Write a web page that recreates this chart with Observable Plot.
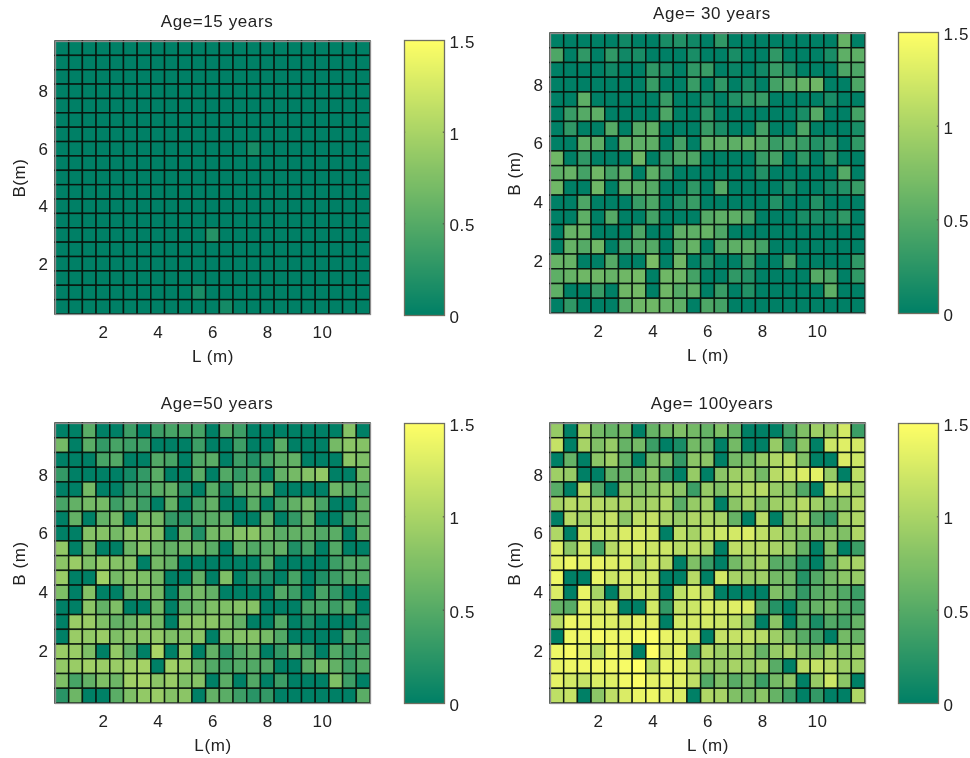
<!DOCTYPE html>
<html><head><meta charset="utf-8">
<script src="https://cdn.jsdelivr.net/npm/d3@7"></script>
<script src="https://cdn.jsdelivr.net/npm/@observablehq/plot@0.6"></script>
<style>
html,body{margin:0;padding:0;background:#fff}
#chart{position:relative;width:970px;height:758px;overflow:hidden}
#chart svg{position:absolute;filter:blur(0.5px);overflow:visible}
</style></head><body><div id="chart"></div>
<script>
// Cell values in hundredths; rows run from B=9.5 (top) down to B=0.5, columns from L=0.5 to L=11.5
const age15 = [
[0,0,0,0,0,0,0,0,0,0,0,0,0,0,0,0,0,0,0,0,0,0,0],
[0,0,0,0,0,0,0,0,0,0,0,0,0,0,0,0,0,0,0,0,0,0,0],
[0,0,0,0,0,0,0,0,0,0,0,0,0,0,0,0,0,0,0,0,0,0,0],
[0,0,0,0,0,0,0,0,0,0,0,0,0,0,0,0,0,0,0,0,0,0,0],
[0,0,0,0,0,0,0,0,0,0,0,0,0,0,0,0,0,0,0,0,0,0,0],
[0,0,0,0,0,0,0,0,0,0,0,0,0,0,0,0,0,0,0,0,0,0,0],
[0,0,0,0,0,0,0,0,0,0,0,0,0,0,0,0,0,0,0,0,0,0,0],
[0,0,0,0,0,0,0,0,0,0,0,0,0,0,14,0,0,0,0,0,0,0,0],
[0,0,0,0,0,0,0,0,0,0,0,0,0,0,0,0,0,0,0,0,0,0,0],
[0,0,0,0,0,0,0,0,0,0,0,0,0,0,0,0,0,0,0,0,0,0,0],
[0,0,0,0,0,0,0,0,0,0,0,0,0,0,0,0,0,0,0,0,0,0,0],
[0,0,0,0,0,0,0,0,0,0,0,0,0,0,0,0,0,0,0,0,0,0,0],
[0,0,0,0,0,0,0,0,0,0,0,0,0,0,0,0,0,0,0,0,0,0,0],
[0,0,0,0,0,0,0,0,0,0,0,22,0,0,0,0,0,0,0,0,0,0,0],
[0,0,0,0,0,0,0,0,0,0,0,0,0,0,0,0,0,0,0,0,0,0,0],
[0,0,0,0,0,0,0,0,0,0,0,0,0,0,0,0,0,0,0,0,0,0,0],
[0,0,0,0,0,0,0,0,0,0,0,0,0,0,0,0,0,0,0,0,0,0,0],
[0,0,0,0,0,0,0,0,0,0,15,0,0,0,0,0,0,0,0,0,0,0,0],
[0,0,0,0,0,0,0,0,0,0,0,0,12,0,0,0,0,0,0,0,0,0,0]];
const age30 = [
[0,0,0,0,0,10,0,0,15,20,10,0,28,0,0,0,0,0,0,0,0,60,0],
[45,0,28,0,28,10,15,0,0,0,15,0,0,15,0,0,28,0,0,0,15,55,55],
[0,0,0,0,10,0,0,28,15,0,28,33,0,5,0,10,33,20,0,0,0,45,45],
[0,0,0,0,0,0,0,33,0,0,33,0,28,0,15,0,40,50,60,65,0,0,45],
[0,0,55,0,0,0,0,0,33,0,0,15,0,20,28,33,0,0,0,0,15,0,0],
[0,33,50,55,0,0,0,0,45,0,0,28,0,0,0,0,0,0,15,50,0,0,40],
[0,28,0,0,50,0,50,55,0,0,0,33,15,0,0,40,0,0,45,0,0,0,15],
[0,0,55,55,0,55,55,55,0,40,0,55,55,55,60,50,33,40,33,20,28,0,28],
[65,0,28,0,0,0,65,0,33,45,45,0,0,0,0,33,40,0,28,0,28,0,0],
[55,60,40,65,40,55,0,55,33,0,0,0,0,0,0,20,0,0,0,0,0,50,0],
[65,0,0,65,0,55,55,50,0,0,28,0,50,0,0,0,0,15,0,0,10,20,33],
[0,0,45,0,0,0,33,45,0,20,33,0,0,0,0,0,20,0,0,20,0,0,0],
[0,0,55,0,50,0,0,40,0,0,0,50,55,55,45,0,0,0,15,15,10,28,0],
[0,60,60,0,0,0,45,0,0,55,55,60,45,0,0,0,0,0,0,0,0,0,0],
[0,60,50,65,0,40,50,50,0,50,60,0,50,55,55,40,0,0,0,0,0,0,0],
[60,60,0,0,50,0,0,72,0,65,0,20,0,0,33,0,0,40,0,0,0,0,28],
[55,60,65,65,60,65,68,0,65,65,40,0,0,28,20,0,0,0,0,50,45,0,28],
[55,0,0,33,0,65,68,0,65,50,55,0,33,0,20,0,0,0,0,0,55,0,0],
[0,28,0,0,0,50,65,65,60,55,0,45,40,0,0,0,0,0,0,0,0,0,0]];
const age50 = [
[0,0,53,0,0,36,0,36,42,42,42,0,48,36,0,0,0,0,0,0,0,78,0],
[69,0,53,30,42,36,36,0,0,0,36,0,0,36,0,0,53,0,0,0,69,82,78],
[0,0,0,42,48,0,0,48,42,0,48,53,0,36,18,42,53,58,0,0,0,82,74],
[30,0,0,0,0,12,30,53,0,0,53,0,48,30,48,0,58,69,78,86,0,0,69],
[0,0,69,0,0,30,36,53,58,24,0,53,12,53,58,64,0,0,0,0,64,53,48],
[42,58,69,69,36,53,36,0,58,0,42,58,0,0,53,0,42,58,69,42,0,0,58],
[0,58,0,58,69,0,69,69,30,24,48,53,53,0,0,58,0,30,58,0,0,42,53],
[0,0,78,78,69,82,82,78,0,64,18,69,69,78,82,69,53,58,58,48,53,0,58],
[86,0,69,0,0,64,78,64,58,64,64,53,0,58,48,53,58,18,42,0,48,0,0],
[82,90,74,86,78,78,0,69,58,0,0,0,0,0,0,53,0,0,0,0,36,48,48],
[90,0,0,94,69,78,74,69,0,0,58,0,74,0,30,18,0,42,0,18,36,48,48],
[74,0,78,0,0,64,74,69,0,58,69,58,0,0,0,0,48,36,0,42,30,0,0],
[0,0,82,58,74,0,0,69,0,58,64,74,74,78,78,0,0,0,42,42,36,48,0],
[0,90,90,74,58,64,78,69,0,82,82,82,74,58,0,0,48,0,18,0,0,0,24],
[0,90,86,90,74,82,82,86,74,78,82,0,74,78,78,69,48,0,0,0,0,48,24],
[90,90,74,0,86,58,0,100,0,86,0,58,24,48,58,0,30,58,36,0,48,30,42],
[86,90,94,90,90,94,97,0,94,90,64,48,42,48,48,48,0,0,53,69,58,36,48],
[74,42,58,74,64,94,97,82,90,74,78,0,53,0,48,0,36,0,0,0,74,36,0],
[24,64,0,0,53,74,86,90,78,82,0,58,53,36,24,30,0,0,0,0,0,0,53]];
const age100 = [
[88,0,98,68,60,68,0,60,68,75,68,60,75,60,0,0,0,40,75,93,88,124,35],
[116,0,98,75,88,60,68,35,0,15,68,60,0,68,0,0,88,30,82,0,120,131,124],
[0,60,0,82,93,60,0,68,75,30,82,82,0,68,68,88,103,112,75,0,0,128,120],
[93,88,0,0,60,60,68,82,30,0,88,0,82,93,93,68,108,116,128,134,88,0,112],
[52,0,108,48,0,82,75,82,93,82,35,88,75,98,103,108,88,82,48,0,116,108,93],
[98,108,108,108,103,103,93,98,103,52,88,93,0,82,98,75,93,93,108,93,75,82,108],
[0,108,98,112,116,82,112,116,98,88,103,103,98,60,0,108,0,82,103,48,30,93,103],
[103,0,124,124,120,128,128,124,0,112,98,116,120,124,128,112,103,88,82,82,82,75,103],
[131,82,124,40,108,124,128,120,120,108,112,103,0,112,108,108,98,88,60,0,75,0,35],
[134,140,134,137,131,131,103,124,108,0,75,35,0,68,88,98,52,52,22,0,60,93,98],
[140,0,0,137,120,128,124,120,0,0,108,0,124,98,93,93,68,68,22,48,68,82,88],
[128,0,137,98,0,116,124,120,0,112,124,116,0,0,0,0,75,60,30,52,60,48,35],
[60,52,134,120,128,0,0,124,30,116,120,128,124,131,128,52,22,0,52,60,68,52,40],
[108,140,137,134,131,128,134,131,0,124,124,124,120,112,88,0,82,0,52,15,48,40,60],
[0,142,140,145,140,140,145,147,137,131,128,0,116,116,116,108,93,68,52,40,0,68,60],
[140,145,134,108,142,134,0,150,124,137,35,108,93,93,93,60,88,98,75,68,93,75,88],
[137,140,142,142,142,145,150,112,140,134,112,93,88,98,88,98,52,0,108,116,108,93,93],
[134,124,116,128,131,142,147,134,137,131,112,48,75,52,68,35,68,82,0,88,120,82,0],
[112,116,0,82,112,128,137,140,134,128,0,103,98,75,68,82,60,35,0,30,0,0,103]];

const xTicks = [2,4,6,8,10];
const yTicks = [2,4,6,8];
const barTicks = [0,0.5,1,1.5];
const barLabels = ["0","0.5","1","1.5"];

const panels = [
 {rows:age15, title:"Age=15 years", xLabel:"L (m)", yLabel:"B(m)", left:55, top:41, h:273, bar:404, barTop:40, barH:275},
 {rows:age30, title:"Age= 30 years", xLabel:"L (m)", yLabel:"B (m)", left:550, top:33, h:280, bar:898, barTop:32, barH:281},
 {rows:age50, title:"Age=50 years", xLabel:"L(m)", yLabel:"B (m)", left:55, top:423, h:280, bar:404, barTop:423, barH:280},
 {rows:age100, title:"Age= 100years", xLabel:"L (m)", yLabel:"B (m)", left:550, top:423, h:280, bar:898, barTop:423, barH:280}
];

const font = {fontFamily:"'Liberation Sans',Arial,sans-serif", fontSize:"17px", letterSpacing:"0.6px", color:"#222", background:"transparent"};
const colorScale = {type:"linear", domain:[0,1.5], range:["rgb(0,128,102)","rgb(255,255,102)"], interpolate:"rgb"};
const root = document.getElementById("chart");

function place(svg, left, top){ svg.style.left = left+"px"; svg.style.top = top+"px"; root.appendChild(svg); }

for (const p of panels) {
  const cells = p.rows.flatMap((row,r) => row.map((v,c) => ({x:0.5+c*0.5, y:9.5-r*0.5, v:v/100})));
  const mL=50, mT=35, mB=55, mR=4;
  const chart = Plot.plot({
    width:315+mL+mR, height:p.h+mT+mB, marginLeft:mL, marginRight:mR, marginTop:mT, marginBottom:mB,
    style:font,
    x:{domain:[0.25,11.75]}, y:{domain:[0.25,9.75]}, color:colorScale,
    marks:[
      Plot.rect(cells,{x1:d=>d.x-0.25,x2:d=>d.x+0.25,y1:d=>d.y-0.25,y2:d=>d.y+0.25,fill:"v",stroke:"#08140c",strokeOpacity:0.9,strokeWidth:1.5}),
      Plot.frame({stroke:"#8c8c8c",strokeWidth:1.3}),
      Plot.axisX({ticks:xTicks,tickSize:0,tickPadding:11,tickFormat:d=>String(d),label:p.xLabel,labelAnchor:"center",labelArrow:"none",labelOffset:47}),
      Plot.axisY({ticks:yTicks,tickSize:0,tickPadding:7,tickFormat:d=>String(d),label:p.yLabel,labelAnchor:"center",labelArrow:"none",labelOffset:43}),
      Plot.text([p.title],{frameAnchor:"top",dy:-27,dx:4,fontSize:17,fill:"#222"})
    ]
  });
  place(chart, p.left-mL, p.top-mT);

  const bL=2, bR=34, bT=12, bB=12;
  const bar = Plot.plot({
    width:40+bL+bR, height:p.barH+bT+bB, marginLeft:bL, marginRight:bR, marginTop:bT, marginBottom:bB,
    style:font,
    x:{domain:[0,1],axis:null}, y:{domain:[0,1.5]}, color:colorScale,
    marks:[
      Plot.raster({fill:(x,y)=>y,x1:0,x2:1,y1:0,y2:1.5,width:1,height:64}),
      Plot.ruleY(barTicks,{x1:0,x2:0.03,stroke:"#444"}),
      Plot.ruleY(barTicks,{x1:0.97,x2:1,stroke:"#444"}),
      Plot.frame({stroke:"#6f6f60",strokeWidth:1.3}),
      Plot.axisY({anchor:"right",ticks:barTicks,tickSize:0,tickPadding:5,dy:2,tickFormat:(d,i)=>barLabels[i],label:null})
    ]
  });
  place(bar, p.bar-bL, p.barTop-bT);
}
</script></body></html>
